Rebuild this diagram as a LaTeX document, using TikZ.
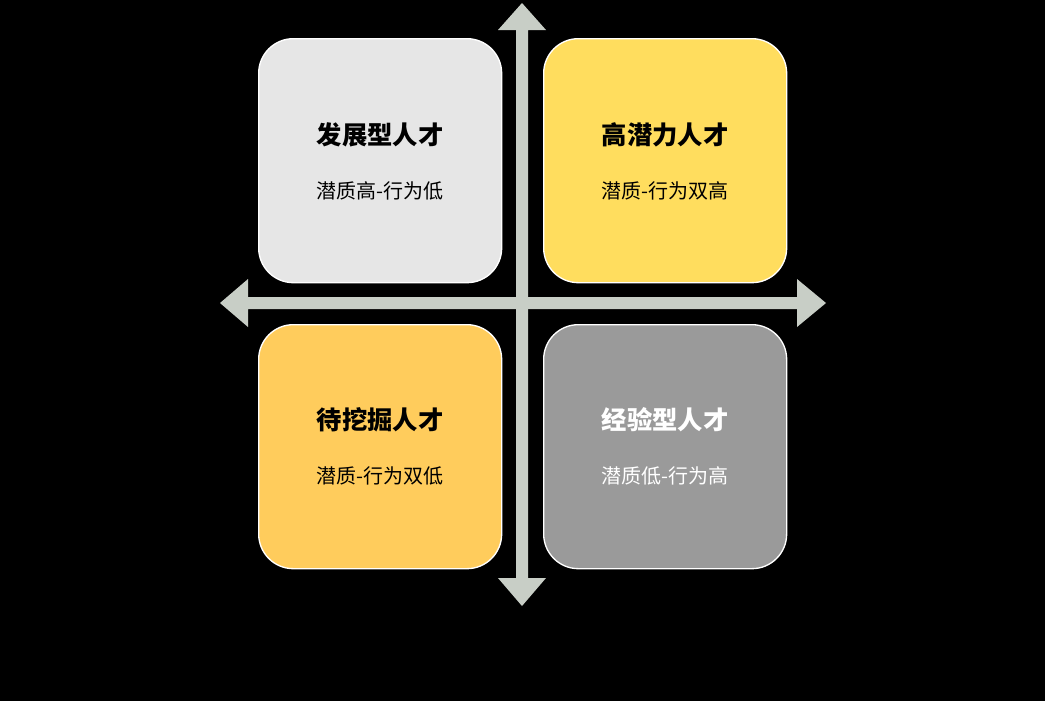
\documentclass[tikz,border=0pt]{standalone}
\usepackage{fontspec}
\newfontfamily\cjk{Noto Sans CJK SC}
\begin{document}
\begin{tikzpicture}[x=0.75pt,y=-0.75pt,
  quad/.style={draw=white,line width=1pt,rounded corners=26pt,minimum width=243*0.75pt,minimum height=244*0.75pt,anchor=north west,inner sep=0pt},
  ttl/.style={font=\cjk\bfseries\fontsize{19}{22}\selectfont},
  sub/.style={font=\cjk\fontsize{15}{18}\selectfont},
  arr/.style={fill=axis,draw=none}]
\definecolor{axis}{HTML}{C8CEC6}
\fill[black] (0,0) rectangle (1045,701);
\useasboundingbox (0,0) rectangle (1045,701);
\node[quad,fill={rgb,255:red,230;green,230;blue,230}] (q1) at (258,38) {};
\node[quad,fill={rgb,255:red,255;green,221;blue,94}] (q2) at (543,38) {};
\node[quad,fill={rgb,255:red,255;green,204;blue,92}] (q3) at (258,324) {};
\node[quad,fill={rgb,255:red,154;green,154;blue,154}] (q4) at (543,324) {};
% axes
\fill[arr] (516,30) -- (498,30) -- (522,3) -- (546,30) -- (528,30) -- (528,578) -- (546,578) -- (522,606) -- (498,578) -- (516,578) -- cycle;
\fill[arr] (248,297) -- (248,279) -- (220,303) -- (248,327) -- (248,309) -- (797,309) -- (797,327) -- (826,303) -- (797,279) -- (797,297) -- cycle;
\node[ttl] (t1) at (380,135) {发展型人才};
\node[sub] (s1) at (380,191) {潜质高-行为低};
\node[ttl] (t2) at (665,135) {高潜力人才};
\node[sub] (s2) at (665,191) {潜质-行为双高};
\node[ttl] (t3) at (380,420) {待挖掘人才};
\node[sub] (s3) at (380,476) {潜质-行为双低};
\node[ttl,white] (t4) at (665,420) {经验型人才};
\node[sub,white] (s4) at (665,476) {潜质低-行为高};
\end{tikzpicture}
\end{document}
